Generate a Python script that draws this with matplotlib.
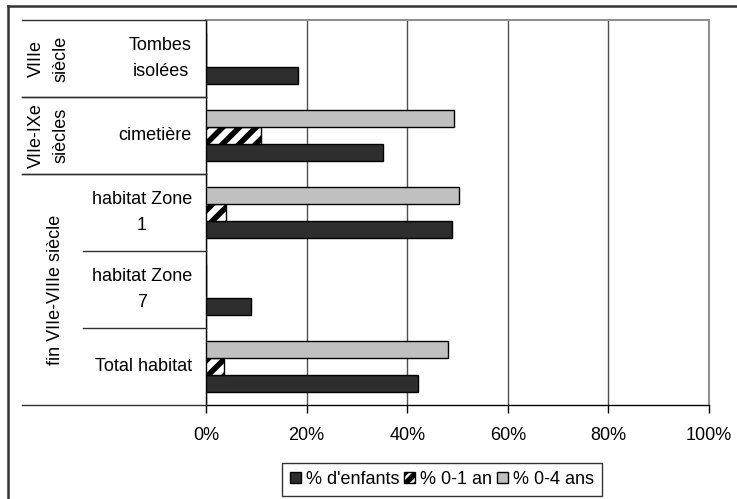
import matplotlib
matplotlib.use("Agg")
import matplotlib.pyplot as plt
import numpy as np
from matplotlib.lines import Line2D
from matplotlib.patches import Patch
import matplotlib.transforms as mtransforms

categories = ["Tombes\nisolées", "cimetière", "habitat Zone\n1", "habitat Zone\n7", "Total habitat"]
groups = ["VIIIe\nsiècle", "VIIe-IXe\nsiècles", "fin VIIe-VIIIe siècle"]
group_spans = [(0, 0), (1, 1), (2, 4)]
pct_enfants = [18.2, 35.1, 49.0, 8.9, 42.1]
pct_0_1 = [0, 10.9, 3.9, 0, 3.6]
pct_0_4 = [0, 49.3, 50.2, 0, 48.2]
series_labels = ["% d'enfants", "% 0-1 an", "% 0-4 ans"]
xticks = [0, 20, 40, 60, 80, 100]

plt.rcParams['font.family'] = ['Liberation Sans', 'DejaVu Sans']
plt.rcParams['hatch.linewidth'] = 4
plt.rcParams['hatch.color'] = '#222222'

FS = 13
W, H = 737, 499
fig = plt.figure(figsize=(W / 100, H / 100), dpi=100)
ax = fig.add_axes([206 / W, 1 - 405 / H, (709 - 206) / W, (405 - 20) / H])

y = np.arange(len(categories))
h = 0.22
ax.barh(y + h, pct_enfants, height=h, color='#2e2e2e', edgecolor='black', linewidth=1, zorder=3)
ax.barh(y, pct_0_1, height=h, color='white', edgecolor='black', hatch='//', linewidth=1, zorder=3)
ax.barh(y - h, pct_0_4, height=h, color='#c0c0c0', edgecolor='black', linewidth=1, zorder=3)

ax.set_xlim(0, 100)
ax.set_ylim(len(categories) - 0.5, -0.5)
ax.set_xticks(xticks)
ax.set_xticklabels([f"{t}%" for t in xticks], fontsize=FS)
ax.tick_params(axis='x', length=6, width=1, color='black', pad=10)
ax.set_yticks([])
ax.xaxis.grid(True, color='#505050', linewidth=1, zorder=0)
ax.set_axisbelow(True)
for s in ['top', 'right']:
    ax.spines[s].set_color('#909090')
    ax.spines[s].set_linewidth(1.5)
for s in ['left', 'bottom']:
    ax.spines[s].set_color('black')
    ax.spines[s].set_linewidth(1)

trans = mtransforms.blended_transform_factory(fig.transFigure, ax.transData)
x_outer = 22 / W
x_inner = 83 / W
x_axis = 206 / W
# category labels
for i, c in enumerate(categories):
    ax.text(192 / W, i, c, transform=trans, ha='right', va='center',
            multialignment='center', fontsize=FS, linespacing=1.75)
# group labels and lines
group_x = [49 / W, 49 / W, 56 / W]
for (a, b), g, gx in zip(group_spans, groups, group_x):
    ax.text(gx, (a + b) / 2, g, transform=trans, ha='center', va='center',
            rotation=90, fontsize=FS, multialignment='center', linespacing=1.6)
    for yy in [a - 0.5, b + 0.5]:
        fig.add_artist(Line2D([x_outer, x_axis], [yy, yy], transform=trans,
                              color='#303030', linewidth=1))
    for k in range(a, b):
        fig.add_artist(Line2D([x_inner, x_axis], [k + 0.5, k + 0.5], transform=trans,
                              color='#303030', linewidth=1))

# outer border
fig.add_artist(Line2D([8 / W, 8 / W], [0, 1 - 6 / H], transform=fig.transFigure,
                      color='#333333', linewidth=1.8))
fig.add_artist(Line2D([8 / W, 1], [1 - 6 / H, 1 - 6 / H], transform=fig.transFigure,
                      color='#333333', linewidth=1.8))

handles = [Patch(facecolor='#2e2e2e', edgecolor='black'),
           Patch(facecolor='white', edgecolor='black', hatch='///'),
           Patch(facecolor='#c0c0c0', edgecolor='black')]
leg = fig.legend(handles, series_labels, loc='center', bbox_to_anchor=(442 / W, 1 - 479.5 / H),
                 ncol=3, fontsize=FS, frameon=True, fancybox=False, handlelength=0.6,
                 handleheight=0.6, handletextpad=0.3, columnspacing=0.25, borderpad=0.45,
                 borderaxespad=0)
leg.get_frame().set_edgecolor('black')
leg.get_frame().set_linewidth(1)

fig.savefig("out.png", dpi=100)
